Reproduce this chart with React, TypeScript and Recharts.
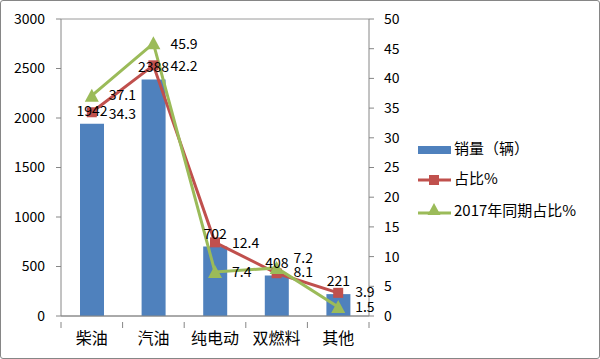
import React from 'react';
import { ComposedChart, Bar, Line, XAxis, YAxis, CartesianGrid, LabelList } from 'recharts';

const categories = ['柴油', '汽油', '纯电动', '双燃料', '其他'];
const sales = [1942, 2388, 702, 408, 221];
const share = [34.3, 42.2, 12.4, 7.2, 3.9];
const share2017 = [37.1, 45.9, 7.4, 8.1, 1.5];
const leftTicks = [0, 500, 1000, 1500, 2000, 2500, 3000];
const rightTicks = [0, 5, 10, 15, 20, 25, 30, 35, 40, 45, 50];
const legendNames = ['销量（辆）', '占比%', '2017年同期占比%'];

const data = categories.map((c, i) => ({ name: c, sales: sales[i], share: share[i], share2017: share2017[i] }));

const FONT = '"Noto Sans CJK SC", "DejaVu Sans", sans-serif';
const BLUE = '#4F81BD';
const RED = '#C0504D';
const GREEN = '#9BBB59';
const AXIS = '#868686';

const W = 600, H = 359;
const M = { top: 19, right: 191, bottom: 13, left: 0 };
const LEFT_W = 61, RIGHT_W = 40;
const PLOT_W = W - M.left - M.right - LEFT_W - RIGHT_W;
const BAND = PLOT_W / categories.length;

const XTick = (props: any) => {
  const { x, y, payload, index } = props;
  const h = BAND / 2;
  return (
    <g>
      <line x1={x - h} y1={y - 2} x2={x - h} y2={y + 4} stroke={AXIS} />
      {index === categories.length - 1 && <line x1={x + h} y1={y - 2} x2={x + h} y2={y + 4} stroke={AXIS} />}
      <text x={x} y={y + 20} textAnchor="middle" fontSize={16} fontFamily={FONT} fill="#000">{payload.value}</text>
    </g>
  );
};

const Square = (props: any) => {
  const { cx, cy } = props;
  if (cx == null || cy == null) return null;
  return <rect x={cx - 5} y={cy - 5} width={10} height={10} fill={RED} />;
};
const Tri = (props: any) => {
  const { cx, cy } = props;
  if (cx == null || cy == null) return null;
  return <polygon points={`${cx},${cy - 7} ${cx - 7},${cy + 6} ${cx + 7},${cy + 6}`} fill={GREEN} />;
};

const sideLabel = (dys: number[]) => (props: any) => {
  const { x, y, value, index } = props;
  return (
    <text x={x + 17} y={y + dys[index]} fontSize={14} fontFamily={FONT} fill="#000" dominantBaseline="middle">{value}</text>
  );
};

const LegendBox = () => (
  <svg width={180} height={95} style={{ position: 'absolute', left: 415, top: 132 }}>
    <rect x={3} y={14} width={33} height={8} fill={BLUE} />
    <text x={39} y={18} fontSize={15} fontFamily={FONT} dominantBaseline="middle">{legendNames[0]}</text>
    <line x1={3} y1={48} x2={36} y2={48} stroke={RED} strokeWidth={3} />
    <rect x={14} y={43} width={10} height={10} fill={RED} />
    <text x={39} y={48} fontSize={15} fontFamily={FONT} dominantBaseline="middle">{legendNames[1]}</text>
    <line x1={3} y1={81} x2={36} y2={81} stroke={GREEN} strokeWidth={3} />
    <polygon points="19,71 12.5,83 25.5,83" fill={GREEN} />
    <text x={39} y={80} fontSize={15} fontFamily={FONT} dominantBaseline="middle">{legendNames[2]}</text>
  </svg>
);

export default function App() {
  return (
    <div style={{ position: 'absolute', left: 0, top: 0, width: W, height: H, background: '#fff' }}>
      <div style={{ position: 'absolute', left: 0, top: 0, width: W - 2, height: H - 2, border: `1px solid ${AXIS}`, borderRadius: 3 }} />
      <div style={{ position: 'absolute', left: 0, top: 0 }}>
        <ComposedChart width={W} height={H} data={data} margin={M}>
          <CartesianGrid vertical={false} stroke="#9a9a9a" />
          <XAxis dataKey="name" stroke={AXIS} tickLine={false} tick={<XTick />} height={30} interval={0} />
          <YAxis yAxisId="l" domain={[0, 3000]} ticks={leftTicks} width={LEFT_W} stroke={AXIS} tickSize={5} tickMargin={11}
            tick={{ fill: '#000', fontSize: 14, fontFamily: FONT }} interval={0} />
          <YAxis yAxisId="r" orientation="right" domain={[0, 50]} ticks={rightTicks} width={RIGHT_W} stroke={AXIS} tickSize={5} tickMargin={10}
            tick={{ fill: '#000', fontSize: 14, fontFamily: FONT }} interval={0} />
          <Bar yAxisId="l" dataKey="sales" fill={BLUE} barSize={24} isAnimationActive={false}>
            <LabelList dataKey="sales" position="top" offset={8} fontSize={14} fontFamily={FONT} fill="#000" />
          </Bar>
          <Line yAxisId="r" dataKey="share" stroke={RED} strokeWidth={3} dot={<Square />} activeDot={false} isAnimationActive={false}>
            <LabelList dataKey="share" content={sideLabel([3, 2, 2, -14, 0])} />
          </Line>
          <Line yAxisId="r" dataKey="share2017" stroke={GREEN} strokeWidth={3} dot={<Tri />} activeDot={false} isAnimationActive={false}>
            <LabelList dataKey="share2017" content={sideLabel([1, 2, 1, 5, 1])} />
          </Line>
        </ComposedChart>
      </div>
      <LegendBox />
    </div>
  );
}
